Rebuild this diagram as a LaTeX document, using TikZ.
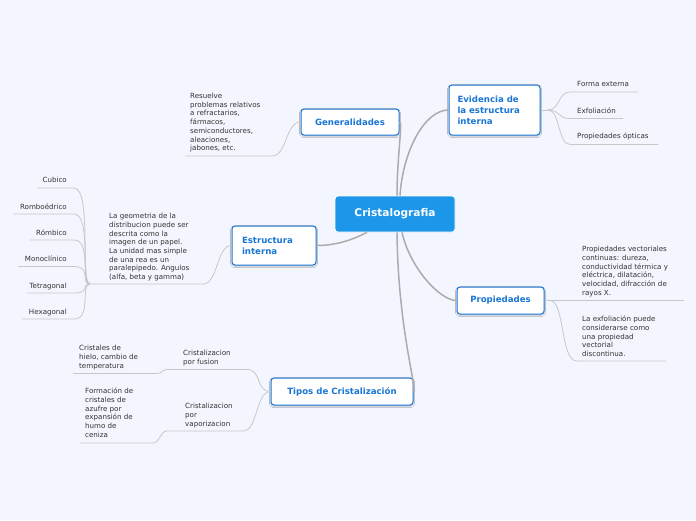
\documentclass[tikz,border=0pt]{standalone}
\usepackage{fontspec}
\setmainfont{DejaVu Sans}
\usetikzlibrary{calc, shadows.blur}
\definecolor{bgblue}   {RGB}{243, 246, 254}
\definecolor{hubblue}  {RGB}{ 28, 150, 232}
\definecolor{nodeblue} {RGB}{ 25, 118, 212}
\definecolor{leafgray} {RGB}{ 51,  51,  51}
\definecolor{limbgray} {RGB}{172, 172, 172}
\definecolor{twiggray} {RGB}{200, 200, 200}

\begin{document}
\begin{tikzpicture}[x=1pt,y=-1pt,
	hub/.style={fill=hubblue, draw=white, line width=0.8pt, rounded corners=3pt,
		text=white, font=\fontsize{10.6}{12}\selectfont\bfseries,
		minimum width=120pt, minimum height=36pt},
	branch/.style={fill=white, draw=nodeblue, line width=1pt, rounded corners=3pt,
		text=nodeblue, font=\fontsize{8.6}{11}\selectfont\bfseries,
		blur shadow={shadow xshift=0pt, shadow yshift=-1.2pt, shadow blur radius=1.5pt, shadow opacity=25}},
	leaf/.style={text=leafgray, font=\fontsize{7.1}{8.7}\selectfont, inner sep=0pt,
		anchor=north west, align=left},
	limb/.style={draw=limbgray, line width=1.5pt},
	twig/.style={draw=twiggray, line width=0.8pt}]
	\fill[bgblue] (0,0) rectangle (696,520);
	\useasboundingbox (0,0) rectangle (696,520);

	% main topics
	\node[hub] (crist) at (395,214) {Cristalografia};
	\node[branch, minimum width=98pt, minimum height=26pt] (gen) at (350,122) {Generalidades};
	\node[branch, minimum width=91pt, minimum height=50pt, text width=74pt, align=left] (evi) at (494.5,110) {Evidencia de\\la estructura\\interna};
	\node[branch, minimum width=84pt, minimum height=39pt, text width=64pt, align=left] (est) at (274,245.5) {Estructura\\interna};
	\node[branch, minimum width=87pt, minimum height=27pt] (prop) at (500.5,300.5) {Propiedades};
	\node[branch, minimum width=142pt, minimum height=27pt] (tip) at (342,391.5) {Tipos de Cristalización};

	\draw[limb] ([xshift=2pt]crist.north) .. controls (397,156) and (403,122) .. (gen.east);
	\draw[limb] ([xshift=5pt]crist.north) .. controls (403,150) and (425,110) .. (evi.west);
	\draw[limb] ([xshift=-28pt]crist.south) .. controls (352,240) and (336,245.5) .. (est.east);
	\draw[limb] ([xshift=7pt]crist.south) .. controls (410,268) and (440,300.5) .. (prop.west);
	\draw[limb] ([xshift=2pt]crist.south) .. controls (398,330) and (418,391.5) .. (tip.east);

	% Generalidades
	\node[leaf] (genl) at (190,93) {Resuelve\\problemas relativos\\a refractarios,\\fármacos,\\semiconductores,\\aleaciones,\\jabones, etc.};
	\coordinate (genl-a) at (185,156);
	\coordinate (genl-b) at (272,156);
	\draw[twig] (gen.west) .. controls +(-15,0) and +(15,0) .. (genl-b) -- (genl-a);

	% Evidencia de la estructura interna
	\coordinate (evi-hub) at (548,110);
	\node[leaf] (forma) at (577,81) {Forma externa};
	\node[leaf] (exfo) at (577,107.5) {Exfoliación};
	\node[leaf] (optic) at (577,133) {Propiedades ópticas};
	\coordinate (forma-a) at (570,92);    \coordinate (forma-b) at (638,92);
	\coordinate (exfo-a) at (570,118.5);  \coordinate (exfo-b) at (623,118.5);
	\coordinate (optic-a) at (570,144.5); \coordinate (optic-b) at (658,144.5);
	\draw[twig] (evi.east) -- (evi-hub);
	\draw[twig] (evi-hub) .. controls (560,110) and (558,92) .. (forma-a) -- (forma-b);
	\draw[twig] (evi-hub) .. controls (560,110) and (558,118.5) .. (exfo-a) -- (exfo-b);
	\draw[twig] (evi-hub) .. controls (560,110) and (558,144.5) .. (optic-a) -- (optic-b);

	% Estructura interna
	\node[leaf] (estl) at (109,213) {La geometria de la\\distribucion puede ser\\descrita como la\\imagen de un papel.\\La unidad mas simple\\de una rea es un\\paralepipedo. Angulos\\(alfa, beta y gamma)};
	\coordinate (estl-a) at (90,284);
	\coordinate (estl-b) at (203,284);
	\draw[twig] (est.west) .. controls +(-15,0) and +(15,0) .. (estl-b) -- (estl-a);

	\node[leaf, anchor=north east] (cub) at (67,177) {Cubico};
	\node[leaf, anchor=north east] (romb) at (67,204) {Romboédrico};
	\node[leaf, anchor=north east] (rmb) at (67,230) {Rómbico};
	\node[leaf, anchor=north east] (mono) at (67,256) {Monoclínico};
	\node[leaf, anchor=north east] (tetra) at (67,283) {Tetragonal};
	\node[leaf, anchor=north east] (hexa) at (67,309) {Hexagonal};
	\coordinate (cub-a) at (37,188);     \coordinate (cub-b) at (74,188);
	\coordinate (romb-a) at (13,214);    \coordinate (romb-b) at (74,214);
	\coordinate (rmb-a) at (30,240);     \coordinate (rmb-b) at (74,240);
	\coordinate (mono-a) at (18,266.5);  \coordinate (mono-b) at (74,266.5);
	\coordinate (tetra-a) at (27,293);   \coordinate (tetra-b) at (74,293);
	\coordinate (hexa-a) at (22,319);    \coordinate (hexa-b) at (74,319);
	\draw[twig] (estl-a) .. controls (80,284) and (92,188) .. (cub-b) -- (cub-a);
	\draw[twig] (estl-a) .. controls (80,284) and (92,214) .. (romb-b) -- (romb-a);
	\draw[twig] (estl-a) .. controls (80,284) and (92,240) .. (rmb-b) -- (rmb-a);
	\draw[twig] (estl-a) .. controls (80,284) and (92,266.5) .. (mono-b) -- (mono-a);
	\draw[twig] (estl-a) .. controls (80,284) and (92,293) .. (tetra-b) -- (tetra-a);
	\draw[twig] (estl-a) .. controls (80,284) and (92,319) .. (hexa-b) -- (hexa-a);

	% Propiedades
	\coordinate (prop-hub) at (550,300.5);
	\node[leaf] (vect) at (582,246) {Propiedades vectoriales\\continuas: dureza,\\conductividad térmica y\\eléctrica, dilatación,\\velocidad, difracción de\\rayos X.};
	\node[leaf] (disc) at (582,316) {La exfoliación puede\\considerarse como\\una propiedad\\vectorial\\discontinua.};
	\coordinate (vect-b) at (684,300.5);
	\coordinate (disc-a) at (577,361);
	\coordinate (disc-b) at (666,361);
	\draw[twig] (prop.east) -- (prop-hub) -- (vect-b);
	\draw[twig] (prop-hub) .. controls (565,300.5) and (560,361) .. (disc-a) -- (disc-b);

	% Tipos de Cristalizacion
	\node[leaf] (fus) at (183,350) {Cristalizacion\\por fusion};
	\node[leaf] (vap) at (185,403) {Cristalizacion\\por\\vaporizacion};
	\coordinate (fus-a) at (167,369.5); \coordinate (fus-b) at (247,369.5);
	\coordinate (vap-a) at (167,431);   \coordinate (vap-b) at (243,431);
	\draw[twig] (tip.west) .. controls +(-15,0) and +(15,0) .. (fus-b) -- (fus-a);
	\draw[twig] (tip.west) .. controls +(-15,0) and +(15,0) .. (vap-b) -- (vap-a);

	\node[leaf] (hielo) at (79,345) {Cristales de\\hielo, cambio de\\temperatura};
	\node[leaf] (azufre) at (85,388) {Formación de\\cristales de\\azufre por\\expansión de\\humo de\\ceniza};
	\coordinate (hielo-a) at (73,373.5); \coordinate (hielo-b) at (157,373.5);
	\coordinate (azu-a) at (80,443);     \coordinate (azu-b) at (153,443);
	\draw[twig] (fus-a) .. controls (162,369.5) and (162,373.5) .. (hielo-b) -- (hielo-a);
	\draw[twig] (vap-a) .. controls (160,431) and (160,443) .. (azu-b) -- (azu-a);
\end{tikzpicture}
\end{document}
